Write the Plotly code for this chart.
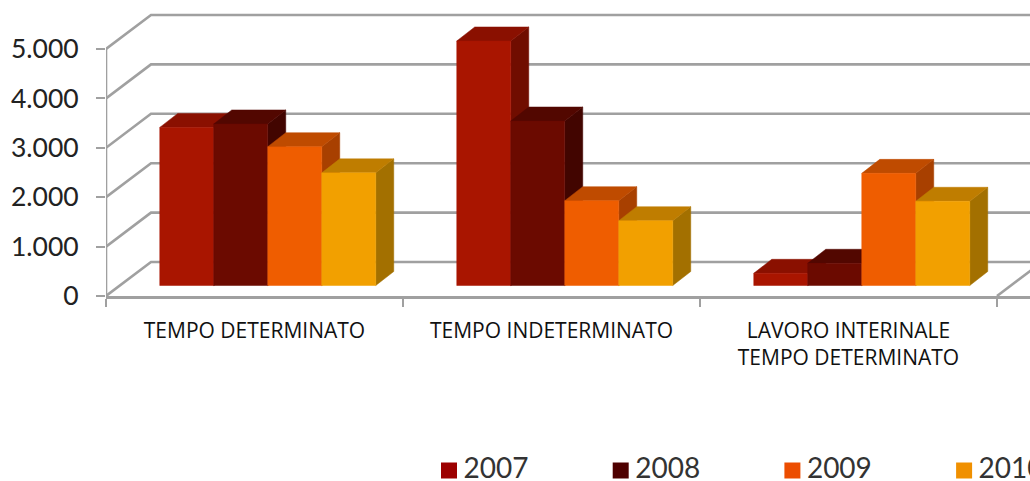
import plotly.graph_objects as go

categories = ["TEMPO DETERMINATO", "TEMPO INDETERMINATO", "LAVORO INTERINALE<br>TEMPO DETERMINATO"]
years = ["2007", "2008", "2009", "2010"]
v2007 = [3200, 4950, 247]
v2008 = [3270, 3330, 450]
v2009 = [2810, 1717, 2270]
v2010 = [2280, 1312, 1705]
series_values = [v2007, v2008, v2009, v2010]
y_ticks = [0, 1000, 2000, 3000, 4000, 5000]

front = ["#A91500", "#6B0A00", "#EF5D00", "#F2A000"]
top = ["#8A1000", "#520700", "#BF4B00", "#BF7D00"]
side = ["#700D00", "#420500", "#A84000", "#A37000"]
legend_col = ["#9C0000", "#4E0000", "#EC4D00", "#F09000"]
GRID = "#A0A0A0"

W, H = 1030, 481
AX_L, AX_B = 106, 296  # axis origin inside the figure
PX_X = 297.0           # px per category
PX_Y = 0.0494          # px per value unit
WALL = (45 / PX_X, 34 / PX_Y)     # floor depth in data units
BAR_D = (18 / PX_X, 14 / PX_Y)    # bar depth
BASE_Y = 10.5 / PX_Y              # bar front plane height over the front floor edge
BAR_W = 54 / PX_X
GROUP_START = 0.181

fig = go.Figure()


def line(xs, ys, color=GRID, width=2.6):
    fig.add_trace(go.Scatter(x=xs, y=ys, mode="lines", line=dict(color=color, width=width),
                             hoverinfo="skip", showlegend=False, cliponaxis=False))


def poly(xs, ys, color):
    fig.add_trace(go.Scatter(x=xs + xs[:1], y=ys + ys[:1], mode="lines", fill="toself",
                             fillcolor=color, line=dict(color=color, width=0.5),
                             hoverinfo="skip", showlegend=False, cliponaxis=False))


# walls
n = len(categories)
for t in y_ticks:
    line([0, WALL[0], n + WALL[0]], [t, t + WALL[1], t + WALL[1]])
line([0, 0], [0, y_ticks[-1]])
line([n, n + WALL[0]], [0, WALL[1]])

# bars, painted back to front
for c in range(n):
    for s, vals in enumerate(series_values):
        x0 = c + GROUP_START + s * BAR_W
        x1 = x0 + BAR_W
        b = BASE_Y
        t = BASE_Y + vals[c]
        dx, dy = BAR_D
        poly([x1, x1 + dx, x1 + dx, x1], [b, b + dy, t + dy, t], side[s])
        poly([x0, x0 + dx, x1 + dx, x1], [t, t + dy, t + dy, t], top[s])
        poly([x0, x1, x1, x0], [b, b, t, t], front[s])

# legend row, on its own hidden axes
STEP = 171.7
for s, year in enumerate(years):
    fig.add_trace(go.Scatter(
        x=[s], y=[0], xaxis="x2", yaxis="y2", mode="markers+text", text=["\u2009" + year],
        textposition="middle right",
        textfont=dict(family="Lato", size=28, color="#333333"),
        marker=dict(symbol="square", size=16, color=legend_col[s]),
        hoverinfo="skip", showlegend=False, cliponaxis=False))

fig.update_layout(
    width=W, height=H, autosize=False,
    margin=dict(l=0, r=0, t=0, b=0, autoexpand=False),
    paper_bgcolor="white", plot_bgcolor="white",
    separators=",.",
    showlegend=False,
    xaxis=dict(
        domain=[AX_L / W, 1], anchor="y", automargin=False,
        range=[0, (W - AX_L) / PX_X], showgrid=False, zeroline=False,
        showline=True, linecolor=GRID, linewidth=2.6,
        tickmode="array", tickvals=[c + 0.5 for c in range(n)], ticktext=categories,
        ticks="", ticklabelstandoff=14,
        tickfont=dict(family="Open Sans", size=21, color="#111111"),
        minor=dict(tickmode="array", tickvals=list(range(n + 1)), ticks="outside", ticklen=8,
                   tickcolor=GRID, tickwidth=2),
    ),
    yaxis=dict(
        domain=[1 - AX_B / H, 1], anchor="x", automargin=False,
        range=[0, AX_B / PX_Y], showgrid=False, zeroline=False, showline=False,
        tickmode="array", tickvals=y_ticks, tickformat=",d",
        ticks="outside", ticklen=9, tickcolor=GRID, tickwidth=2, ticklabelstandoff=12,
        tickfont=dict(family="Lato", size=26.5, color="#222222"),
    ),
    xaxis2=dict(domain=[0, 1], range=[-449 / STEP, (W - 449) / STEP], visible=False, anchor="y2"),
    yaxis2=dict(domain=[0, 21 / H], range=[-1, 1], visible=False, anchor="x2"),
)

fig.write_html("out.html", config=dict(displayModeBar=False),
               post_script="document.body.style.margin='0';")
